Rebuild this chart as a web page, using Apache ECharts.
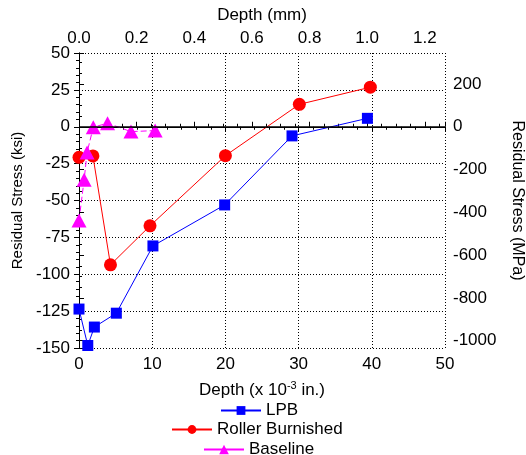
<!DOCTYPE html>
<html>
<head>
<meta charset="utf-8">
<script src="https://cdn.jsdelivr.net/npm/echarts@6/dist/echarts.min.js"></script>
<style>html,body{margin:0;padding:0;background:#fff;}#c{width:526px;height:455px;}</style>
</head>
<body>
<div id="c"></div>
<script>
// Depth in 10^-3 in., stress in ksi
var depthLPB = [0, 1.2, 2.1, 5.1, 10.1, 19.9, 29.1, 39.4];
var stressLPB = [-123.6, -148.3, -135.8, -126.4, -80.8, -53, -6.2, 5.7];
var depthRB = [0, 1.9, 4.3, 9.7, 20.0, 30.1, 39.8];
var stressRB = [-20.7, -19.8, -93.6, -67.2, -19.6, 15.2, 26.8];
var depthBL = [0, 0.7, 1.1, 1.95, 3.9, 7.1, 10.4];
var stressBL = [-63.6, -36, -17.5, -0.3, 2.4, -3.3, -2.6];
var seriesNames = ['LPB', 'Roller Burnished', 'Baseline'];

var KSI_TO_MPA = 6.89476;
var IN3_TO_MM = 0.0254;
var xMin = 0, xMax = 50, yMin = -150, yMax = 50;

function pairs(xs, ys) { return xs.map(function (x, i) { return [x, ys[i]]; }); }

var FONT = 'Liberation Sans, Arial, sans-serif';
var txt = { color: '#000', fontFamily: FONT, fontSize: 15 };
var htxt = { color: '#000', fontFamily: FONT, fontSize: 17 };
var lab = { color: '#000', fontFamily: FONT, fontSize: 17 };
var axLine = { show: true, lineStyle: { color: '#000', width: 1 } };

var chart = echarts.init(document.getElementById('c'));
chart.setOption({
  animation: false,
  backgroundColor: '#fff',
  grid: { left: 79, right: 81, top: 53, bottom: 107, containLabel: false, outerBoundsMode: 'none' },
  legend: [
    { data: [seriesNames[0]], left: 215, top: 397, orient: 'vertical', itemWidth: 40, itemHeight: 11, itemGap: 0, textStyle: htxt },
    { data: [seriesNames[1]], left: 166, top: 416, orient: 'vertical', itemWidth: 40, itemHeight: 11, itemGap: 0, textStyle: htxt },
    { data: [{ name: seriesNames[2], lineStyle: { type: 'solid' } }], left: 198, top: 436, orient: 'vertical', itemWidth: 40, itemHeight: 12, itemGap: 0, textStyle: htxt }
  ],
  xAxis: [
    {
      type: 'value', position: 'bottom', min: xMin, max: xMax, interval: 10,
      name: '{n|Depth (x 10}{s|-3}{n| in.)}', nameLocation: 'middle', nameGap: 32,
      nameTextStyle: { rich: { n: { fontFamily: FONT, fontSize: 17, color: '#000' }, s: { fontFamily: FONT, fontSize: 11, color: '#000', verticalAlign: 'top', padding: [0, 0, 10, 0] } } },
      axisLine: axLine,
      axisTick: { show: true, inside: false, length: 5, lineStyle: { color: '#000' } },
      minorTick: { show: true, splitNumber: 5, length: 3, lineStyle: { color: '#000' } },
      axisLabel: Object.assign({ margin: 8 }, lab),
      splitLine: { show: true, lineStyle: { color: '#000', type: [1, 2], width: 1 } }
    },
    {
      type: 'value', position: 'top', min: 0, max: xMax * IN3_TO_MM, interval: 0.2,
      name: 'Depth (mm)', nameLocation: 'middle', nameGap: 29, nameTextStyle: htxt,
      axisLine: axLine,
      axisTick: { show: true, inside: false, length: 5, lineStyle: { color: '#000' } },
      minorTick: { show: true, splitNumber: 4, length: 3, lineStyle: { color: '#000' } },
      axisLabel: Object.assign({ margin: 6, showMaxLabel: false, formatter: function (v) { return v.toFixed(1); } }, lab),
      splitLine: { show: false }
    }
  ],
  yAxis: [
    {
      type: 'value', position: 'left', min: yMin, max: yMax, interval: 25,
      name: 'Residual Stress (ksi)', nameLocation: 'middle', nameGap: 52, nameTextStyle: txt,
      axisLine: axLine,
      axisTick: { show: true, inside: false, length: 5, lineStyle: { color: '#000' } },
      minorTick: { show: true, splitNumber: 5, length: 3, lineStyle: { color: '#000' } },
      axisLabel: Object.assign({ margin: 9 }, lab),
      splitLine: { show: true, lineStyle: { color: '#000', type: [1, 2], width: 1 } }
    },
    {
      type: 'value', position: 'right', min: yMin * KSI_TO_MPA, max: yMax * KSI_TO_MPA,
      splitNumber: 7, minInterval: 200, maxInterval: 200,
      name: 'Residual Stress (MPa)', nameLocation: 'middle', nameGap: 64, nameRotate: -90,
      nameTextStyle: { color: '#000', fontFamily: FONT, fontSize: 16 },
      axisLine: axLine,
      axisTick: { show: true, inside: false, length: 5, lineStyle: { color: '#000' } },
      minorTick: { show: true, splitNumber: 4, length: 3, lineStyle: { color: '#000' } },
      axisLabel: Object.assign({ margin: 8, showMinLabel: false, showMaxLabel: false, formatter: function (v) { return String(Math.round(v)); } }, lab),
      splitLine: { show: false }
    }
  ],
  series: [
    {
      name: seriesNames[0], type: 'line', xAxisIndex: 0, yAxisIndex: 0, clip: false,
      data: pairs(depthLPB, stressLPB),
      symbol: 'rect', symbolSize: 11,
      itemStyle: { color: '#0000ff' }, lineStyle: { color: '#0000ff', width: 1 },
      markLine: {
        silent: true, symbol: 'none', label: { show: false },
        lineStyle: { color: '#000', type: 'solid', width: 1.5 },
        data: [{ yAxis: 0 }]
      }
    },
    {
      name: seriesNames[1], type: 'line', xAxisIndex: 0, yAxisIndex: 0, clip: false,
      data: pairs(depthRB, stressRB),
      symbol: 'circle', symbolSize: 13,
      itemStyle: { color: '#ff0000' }, lineStyle: { color: '#ff0000', width: 1 }
    },
    {
      name: seriesNames[2], type: 'line', xAxisIndex: 0, yAxisIndex: 0, clip: false,
      data: pairs(depthBL, stressBL),
      symbol: 'triangle', symbolSize: [15, 14],
      itemStyle: { color: '#ff00ff' }, lineStyle: { color: '#ff00ff', width: 1, type: [6, 3] }
    }
  ]
});
</script>
</body>
</html>
